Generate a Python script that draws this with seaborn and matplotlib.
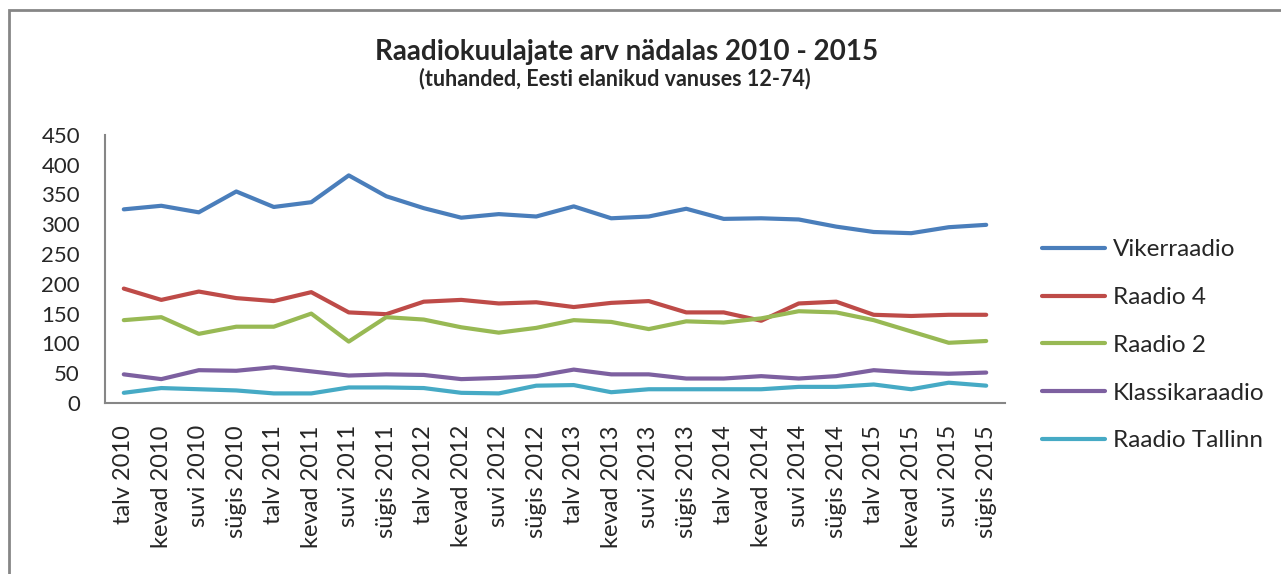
import numpy as np
import pandas as pd
import matplotlib
matplotlib.use("Agg")
import matplotlib.pyplot as plt
import seaborn as sns
from matplotlib.patches import Rectangle

### Data
seasons = ["talv", "kevad", "suvi", "sügis"]
periods = [f"{s} {y}" for y in range(2010, 2016) for s in seasons]

vikerraadio = [325, 331, 320, 355, 329, 337, 382, 347, 327, 311, 317, 313,
               330, 310, 313, 326, 309, 310, 308, 296, 287, 285, 295, 299]
raadio4 = [192, 173, 187, 176, 171, 186, 152, 149, 170, 173, 167, 169,
           161, 168, 171, 152, 152, 138, 167, 170, 148, 146, 148, 148]
raadio2 = [139, 144, 116, 128, 128, 150, 103, 144, 140, 127, 118, 126,
           139, 136, 124, 137, 135, 142, 154, 152, 139, 120, 101, 104]
klassika = [48, 40, 55, 54, 60, 53, 46, 48, 47, 40, 42, 45,
            56, 48, 48, 41, 41, 45, 41, 45, 55, 51, 49, 51]
tallinn = [17, 25, 23, 21, 16, 16, 26, 26, 25, 17, 16, 29,
           30, 18, 23, 23, 23, 23, 27, 27, 31, 23, 34, 29]

stations = ["Vikerraadio", "Raadio 4", "Raadio 2", "Klassikaraadio", "Raadio Tallinn"]
colors = ["#4A7EBB", "#BE4B48", "#98B954", "#7D60A0", "#46AAC5"]

df = pd.DataFrame({
    "period": periods * 5,
    "idx": list(range(len(periods))) * 5,
    "value": vikerraadio + raadio4 + raadio2 + klassika + tallinn,
    "station": [s for s in stations for _ in periods],
})

### Plot
sns.set_style("white")
plt.rcParams['font.family'] = ['Lato', 'DejaVu Sans']

fig = plt.figure(figsize=(12.81, 5.74), dpi=100)
ax = fig.add_axes([0.082, 0.298, 0.7025, 0.467])

sns.lineplot(data=df, x="idx", y="value", hue="station", hue_order=stations,
             palette=colors, linewidth=3, ax=ax, legend=False)

gray = "#868686"
ax.set_xlim(-0.5, len(periods) - 0.5)
ax.set_ylim(0, 450)
ax.set_yticks(np.arange(0, 451, 50))
ax.set_xticks(range(len(periods)))
ax.set_xticklabels(periods, rotation=90, fontsize=17)
ax.set_xticks(np.arange(-0.5, len(periods), 1), minor=True)
ax.tick_params(axis="x", which="major", length=0, pad=16)
ax.tick_params(axis="x", which="minor", length=6, color=gray, width=1.2, direction="out")
ax.tick_params(axis="y", length=6, color=gray, width=1.2, direction="out", labelsize=16, pad=12)
ax.set_xlabel("")
ax.set_ylabel("")
for side in ["top", "right"]:
    ax.spines[side].set_visible(False)
for side in ["left", "bottom"]:
    ax.spines[side].set_color(gray)
    ax.spines[side].set_linewidth(1.5)

# legend
handles = [plt.Line2D([0], [0], color=c, lw=3, solid_capstyle="round") for c in colors]
fig.legend(handles, stations, loc="upper left", bbox_to_anchor=(0.806, 0.600),
           frameon=False, fontsize=17.5, handlelength=2.6, handletextpad=0.3,
           labelspacing=1.1, borderaxespad=0)

# titles
fig.text(0.489, 0.910, "Raadiokuulajate arv nädalas 2010 - 2015",
         ha="center", va="center", fontsize=20, fontweight="bold")
fig.text(0.48, 0.863, "(tuhanded, Eesti elanikud vanuses 12-74)",
         ha="center", va="center", fontsize=15.5, fontweight="bold")

# chart area border
fig.patches.append(Rectangle((0.007, -0.1), 1.2, 1.083, transform=fig.transFigure,
                             fill=False, edgecolor=gray, linewidth=2))

plt.savefig("out.png", dpi=100)
